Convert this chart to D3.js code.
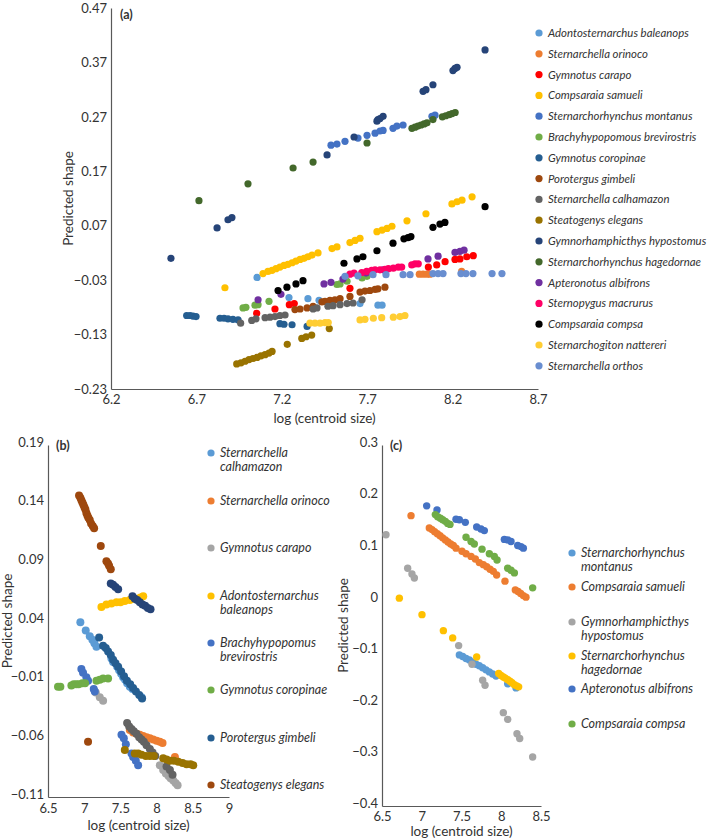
<!DOCTYPE html>
<html><head><meta charset="utf-8">
<script src="https://cdn.jsdelivr.net/npm/d3@7/dist/d3.min.js"></script>
<style>
body{margin:0;background:#fff;}
svg text{font-family:Lato,"Open Sans",sans-serif;fill:#333;}
</style></head>
<body><svg id="c" width="709" height="839"></svg>
<script>
// ---------- Panel (a) data ----------
const aNames = ["Adontosternarchus baleanops","Sternarchella orinoco","Gymnotus carapo","Compsaraia samueli","Sternarchorhynchus montanus","Brachyhypopomous brevirostris","Gymnotus coropinae","Porotergus gimbeli","Sternarchella calhamazon","Steatogenys elegans","Gymnorhamphicthys hypostomus","Sternarchorhynchus hagedornae","Apteronotus albifrons","Sternopygus macrurus","Compsaraia compsa","Sternarchogiton nattereri","Sternarchella orthos"];
const aColors = ["#5B9BD5","#ED7D31","#FF0000","#FFC000","#4472C4","#70AD47","#255E91","#9E480E","#636363","#997300","#264478","#43682B","#7030A0","#FF0066","#000000","#FFCD33","#698ED0"];
const aXTicks = [6.2,6.7,7.2,7.7,8.2,8.7];
const aYTicks = [-0.23,-0.13,-0.03,0.07,0.17,0.27,0.37,0.47];

const a_baleanops = [[7.055,-0.025],[7.242,-0.062],[7.353,-0.064],[7.418,-0.067],[7.658,-0.073],[7.763,-0.076],[7.787,-0.076]];
const a_orinoco = [[8.005,-0.019],[8.027,-0.019],[8.05,-0.019],[8.068,-0.019],[8.253,-0.014]];
const a_carapo = [[7.053,-0.091],[7.16,-0.083],[7.244,-0.075],[7.273,-0.073],[7.599,-0.045],[8.058,-0.006],[8.107,-0.002],[8.156,0.004],[8.214,0.008],[8.243,0.009],[8.283,0.013],[8.321,0.015]];
const a_samueli = [[6.867,-0.044],[7.09,-0.018],[7.119,-0.014],[7.143,-0.012],[7.166,-0.009],[7.189,-0.006],[7.213,-0.003],[7.236,-0.001],[7.26,0.002],[7.283,0.005],[7.307,0.008],[7.33,0.010],[7.353,0.013],[7.377,0.016],[7.412,0.020],[7.494,0.028],[7.523,0.031],[7.599,0.039],[7.629,0.043],[7.658,0.047],[7.757,0.059],[7.787,0.062],[7.816,0.065],[7.845,0.069],[7.933,0.079],[8.044,0.092],[8.196,0.110],[8.226,0.114],[8.255,0.117],[8.314,0.123]];
const a_montanus = [[7.488,0.218],[7.523,0.220],[7.57,0.225],[7.646,0.231],[7.699,0.236],[7.746,0.240],[7.775,0.244],[7.793,0.245],[7.851,0.249],[7.874,0.253],[7.91,0.255],[8.079,0.271],[8.097,0.273]];
const a_brevirostris = [[6.973,-0.081],[6.99,-0.080],[7.043,-0.076],[7.061,-0.075],[7.125,-0.069],[7.523,-0.038],[7.541,-0.037],[7.582,-0.032],[7.67,-0.026],[7.699,-0.023]];
const a_coropinae = [[6.643,-0.095],[6.663,-0.095],[6.68,-0.096],[6.698,-0.097],[6.838,-0.100],[6.862,-0.100],[6.885,-0.101],[6.914,-0.102],[6.944,-0.103],[7.189,-0.110],[7.213,-0.111],[7.26,-0.112],[7.348,-0.115]];
const a_gimbeli = [[7.277,-0.084],[7.307,-0.083],[7.348,-0.081],[7.383,-0.078],[7.435,-0.070],[7.453,-0.069],[7.482,-0.067],[7.511,-0.066],[7.541,-0.064],[7.599,-0.060],[7.658,-0.052],[7.687,-0.050],[7.716,-0.049],[7.746,-0.047],[7.763,-0.046],[7.804,-0.043]];
const a_calhamazon = [[6.959,-0.109],[7.024,-0.104],[7.049,-0.101],[7.102,-0.099],[7.131,-0.098],[7.16,-0.097],[7.189,-0.095],[7.219,-0.094],[7.383,-0.083],[7.406,-0.081],[7.47,-0.078],[7.5,-0.077],[7.541,-0.075],[7.582,-0.073],[7.617,-0.072],[7.67,-0.066]];
const a_elegans = [[6.936,-0.184],[6.961,-0.182],[6.985,-0.179],[7.008,-0.176],[7.031,-0.174],[7.055,-0.172],[7.078,-0.169],[7.102,-0.167],[7.125,-0.164],[7.143,-0.161],[7.232,-0.148],[7.317,-0.137],[7.342,-0.134],[7.375,-0.131],[7.478,-0.119]];
const a_hypostomus = [[6.551,0.010],[6.821,0.066],[6.885,0.081],[6.908,0.085],[7.465,0.200],[7.623,0.233],[7.757,0.262],[7.763,0.265],[7.775,0.267],[7.793,0.271],[8.027,0.317],[8.044,0.320],[8.085,0.329],[8.202,0.355],[8.214,0.359],[8.226,0.361],[8.39,0.393]];
const a_hagedornae = [[6.715,0.116],[7.002,0.147],[7.266,0.176],[7.383,0.187],[7.699,0.222],[7.962,0.249],[7.98,0.251],[7.997,0.253],[8.015,0.255],[8.033,0.257],[8.05,0.259],[8.085,0.265],[8.14,0.270],[8.16,0.272],[8.18,0.274],[8.197,0.276],[8.215,0.278]];
const a_albifrons = [[7.061,-0.066],[7.195,-0.056],[7.447,-0.037],[7.488,-0.034],[7.558,-0.028],[7.693,-0.017],[7.793,-0.011],[8.056,0.009],[8.115,0.014],[8.214,0.021],[8.243,0.023],[8.267,0.025]];
const a_macrurus = [[7.599,-0.019],[7.623,-0.017],[7.668,-0.016],[7.697,-0.014],[7.726,-0.012],[7.746,-0.011],[7.775,-0.011],[7.804,-0.010],[7.824,-0.009],[7.853,-0.008],[7.882,-0.006],[7.902,-0.006],[7.961,-0.002],[7.98,0.000],[7.999,0.000]];
const a_compsa = [[7.178,-0.049],[7.23,-0.043],[7.283,-0.037],[7.324,-0.031],[7.564,0.001],[7.64,0.009],[7.675,0.013],[7.757,0.024],[7.851,0.038],[7.915,0.046],[7.939,0.048],[7.956,0.050],[8.085,0.067],[8.126,0.073],[8.155,0.076],[8.39,0.105]];
const a_nattereri = [[7.365,-0.109],[7.394,-0.109],[7.424,-0.109],[7.453,-0.108],[7.472,-0.108],[7.658,-0.103],[7.687,-0.102],[7.736,-0.100],[7.785,-0.099],[7.853,-0.098],[7.892,-0.097],[7.921,-0.095]];
const a_orthos = [[7.57,-0.023],[7.646,-0.022],[7.734,-0.020],[7.81,-0.020],[7.91,-0.020],[7.951,-0.020],[8.085,-0.018],[8.115,-0.018],[8.144,-0.018],[8.249,-0.018],[8.278,-0.018],[8.319,-0.018],[8.431,-0.018],[8.489,-0.018]];
const aSeries = [a_baleanops,a_orinoco,a_carapo,a_samueli,a_montanus,a_brevirostris,a_coropinae,a_gimbeli,a_calhamazon,a_elegans,a_hypostomus,a_hagedornae,a_albifrons,a_macrurus,a_compsa,a_nattereri,a_orthos];

// ---------- Panel (b) data ----------
const bNames = [["Sternarchella","calhamazon"],["Sternarchella orinoco"],["Gymnotus carapo"],["Adontosternarchus","baleanops"],["Brachyhypopomus","brevirostris"],["Gymnotus coropinae"],["Porotergus gimbeli"],["Steatogenys elegans"]];
const bColors = ["#5B9BD5","#ED7D31","#A5A5A5","#FFC000","#4472C4","#70AD47","#255E91","#9E480E"];
const bExtraColors = ["#636363","#997300","#264478"];
const bXTicks = [6.5,7,7.5,8,8.5,9];
const bYTicks = [-0.11,-0.06,-0.01,0.04,0.09,0.14,0.19];

const b_calhamazon = [[6.947,0.039],[7.021,0.032],[7.077,0.027],[7.113,0.024],[7.141,0.021],[7.169,0.018],[7.376,0.008],[7.399,0.005],[7.455,0.001],[7.482,-0.002],[7.51,-0.005],[7.538,-0.008],[7.565,-0.010],[7.593,-0.013],[7.63,-0.016],[7.667,-0.018],[7.792,-0.025]];
const b_orinoco = [[7.63,-0.053],[7.676,-0.055],[7.722,-0.056],[7.768,-0.057],[7.815,-0.058],[7.861,-0.059],[7.907,-0.060],[7.953,-0.061],[8.0,-0.062],[8.045,-0.063],[8.082,-0.064],[8.253,-0.076]];
const b_carapo = [[7.16,-0.021],[7.215,-0.025],[7.261,-0.028],[8.045,-0.083],[8.091,-0.087],[8.128,-0.090],[8.165,-0.092],[8.193,-0.094],[8.23,-0.096],[8.262,-0.098],[8.29,-0.100]];
const b_baleanops = [[7.238,0.052],[7.307,0.054],[7.376,0.055],[7.446,0.056],[7.501,0.056],[7.561,0.057],[7.63,0.058],[7.685,0.059],[7.732,0.059],[7.778,0.060],[7.815,0.061]];
const b_brevirostris = [[6.961,-0.001],[6.984,-0.004],[7.03,-0.008],[7.053,-0.011],[7.132,-0.018],[7.146,-0.020],[7.515,-0.057],[7.547,-0.060],[7.575,-0.065],[7.653,-0.073],[7.676,-0.076],[7.713,-0.079],[7.745,-0.083]];
const b_coropinae = [[6.638,-0.016],[6.671,-0.016],[6.823,-0.015],[6.855,-0.014],[6.892,-0.014],[6.924,-0.014],[6.975,-0.013],[7.012,-0.013],[7.169,-0.011],[7.215,-0.010],[7.261,-0.009],[7.33,-0.009]];
const b_gimbeli = [[7.206,0.026],[7.261,0.019],[7.298,0.017],[7.33,0.014],[7.367,0.011],[7.399,0.007],[7.432,0.004],[7.469,0.001],[7.51,-0.003],[7.55,-0.007],[7.59,-0.011],[7.635,-0.014],[7.675,-0.017],[7.715,-0.020],[7.76,-0.023],[7.8,-0.026]];
const b_elegans = [[6.929,0.147],[6.947,0.145],[6.961,0.143],[6.975,0.141],[6.989,0.139],[7.003,0.137],[7.017,0.135],[7.03,0.132],[7.044,0.130],[7.058,0.128],[7.077,0.126],[7.095,0.123],[7.118,0.121],[7.137,0.119],[7.229,0.104],[7.307,0.091],[7.33,0.089],[7.344,0.087],[7.367,0.084],[7.053,-0.063]];
const b_darkgray = [[7.593,-0.047],[7.621,-0.050],[7.653,-0.052],[7.685,-0.054],[7.722,-0.056],[7.759,-0.059],[7.792,-0.061],[7.824,-0.063],[7.861,-0.066],[7.907,-0.069],[7.944,-0.072],[7.981,-0.075],[8.137,-0.084],[8.184,-0.087],[8.22,-0.091]];
const b_olive = [[7.561,-0.070],[7.699,-0.073],[7.745,-0.073],[7.792,-0.074],[7.851,-0.075],[7.907,-0.075],[7.962,-0.075],[8.091,-0.077],[8.137,-0.078],[8.184,-0.079],[8.239,-0.079],[8.299,-0.080],[8.359,-0.081],[8.414,-0.082],[8.469,-0.082],[8.506,-0.083]];
const b_navy = [[7.367,0.072],[7.399,0.071],[7.432,0.069],[7.469,0.067],[7.667,0.061],[7.699,0.059],[7.732,0.058],[7.768,0.056],[7.805,0.054],[7.842,0.053],[7.879,0.051],[7.916,0.050]];
const bSeries = [b_calhamazon,b_orinoco,b_carapo,b_baleanops,b_brevirostris,b_coropinae,b_gimbeli,b_elegans];
const bExtra = [b_darkgray,b_olive,b_navy];

// ---------- Panel (c) data ----------
const cNames = [["Sternarchorhynchus","montanus"],["Compsaraia samueli"],["Gymnorhamphicthys","hypostomus"],["Sternarchorhynchus","hagedornae"],["Apteronotus albifrons"],["Compsaraia compsa"]];
const cColors = ["#5B9BD5","#ED7D31","#A5A5A5","#FFC000","#4472C4","#70AD47"];
const cXTicks = [6.5,7,7.5,8,8.5];
const cYTicks = [-0.4,-0.3,-0.2,-0.1,0,0.1,0.2,0.3];

const c_montanus = [[7.473,-0.107],[7.515,-0.110],[7.557,-0.114],[7.599,-0.117],[7.64,-0.121],[7.682,-0.125],[7.724,-0.128],[7.766,-0.132],[7.808,-0.136],[7.85,-0.140],[7.892,-0.144],[7.934,-0.148],[8.081,-0.163],[8.186,-0.171]];
const c_samueli = [[6.865,0.163],[7.095,0.139],[7.129,0.136],[7.162,0.132],[7.196,0.128],[7.23,0.124],[7.263,0.120],[7.297,0.116],[7.33,0.112],[7.364,0.108],[7.397,0.105],[7.431,0.100],[7.506,0.094],[7.557,0.089],[7.62,0.084],[7.674,0.079],[7.724,0.072],[7.775,0.068],[7.817,0.064],[7.859,0.059],[7.9,0.055],[7.942,0.048],[8.047,0.036],[8.177,0.019],[8.211,0.016],[8.244,0.012],[8.278,0.008],[8.311,0.005]];
const c_hypostomus = [[6.55,0.126],[6.823,0.061],[6.877,0.050],[6.907,0.042],[7.464,-0.089],[7.632,-0.125],[7.766,-0.156],[7.796,-0.166],[8.026,-0.219],[8.081,-0.232],[8.198,-0.260],[8.232,-0.269],[8.395,-0.305]];
const c_hagedornae = [[6.718,0.003],[7.003,-0.029],[7.272,-0.060],[7.389,-0.074],[7.691,-0.111],[7.968,-0.143],[7.997,-0.147],[8.026,-0.150],[8.051,-0.152],[8.081,-0.155],[8.11,-0.158],[8.135,-0.161],[8.165,-0.165],[8.194,-0.167],[8.219,-0.169]];
const c_albifrons = [[7.062,0.182],[7.192,0.174],[7.431,0.156],[7.473,0.155],[7.548,0.150],[7.691,0.141],[7.745,0.137],[7.787,0.134],[8.039,0.117],[8.081,0.116],[8.123,0.113],[8.207,0.105],[8.248,0.103],[8.278,0.100]];
const c_compsa = [[7.171,0.165],[7.2,0.161],[7.234,0.158],[7.263,0.155],[7.297,0.152],[7.326,0.148],[7.355,0.146],[7.557,0.121],[7.62,0.113],[7.661,0.108],[7.758,0.098],[7.85,0.089],[7.913,0.084],[7.947,0.077],[8.081,0.061],[8.123,0.057],[8.165,0.052],[8.395,0.023]];
const cSeries = [c_montanus,c_samueli,c_hypostomus,c_hagedornae,c_albifrons,c_compsa];

// ---------- drawing ----------
const svg = d3.select("#c");
const AX = "#595959";

function panel(o){
  const g = svg.append("g");
  const x = d3.scaleLinear().domain(o.xd).range(o.xr);
  const y = d3.scaleLinear().domain(o.yd).range(o.yr);
  const xa = g.append("g").attr("transform",`translate(0,${o.yr[0]})`)
    .call(d3.axisBottom(x).tickValues(o.xt).tickSize(0).tickPadding(o.xpad).tickFormat(o.xf));
  const ya = g.append("g").attr("transform",`translate(${o.xr[0]},0)`)
    .call(d3.axisLeft(y).tickValues(o.yt).tickSize(0).tickPadding(4).tickFormat(o.yf));
  [xa,ya].forEach(a=>{
    a.select(".domain").attr("stroke",AX).attr("stroke-width",1.2);
    a.selectAll("text").style("font-family","Lato, 'Open Sans', sans-serif").style("font-size","13px").attr("fill","#333");
  });
  ya.selectAll("text").attr("dy",o.ydy);
  o.series.forEach((s,i)=>{
    g.append("g").selectAll("circle").data(s).join("circle")
      .attr("cx",d=>x(d[0])).attr("cy",d=>y(d[1])).attr("r",o.r).attr("fill",o.colors[i]);
  });
  g.append("text").attr("x",(o.xr[0]+o.xr[1])/2).attr("y",o.xtY).attr("text-anchor","middle")
    .style("font-size","13.5px").text("log (centroid size)");
  g.append("text").attr("transform",`translate(${o.ytX},${(o.yr[0]+o.yr[1])/2}) rotate(-90)`)
    .attr("text-anchor","middle").style("font-size","13.5px").text("Predicted shape");
  g.append("text").attr("x",o.lab[0]).attr("y",o.lab[1]).style("font-weight","bold").style("font-size","12.5px").text(o.label);
  return {x,y};
}
const fmt = d=>d3.format(".2f")(d).replace("-","\u2212");
panel({xd:[6.2,8.7],xr:[111,538],yd:[-0.23,0.47],yr:[389,8],xt:aXTicks,yt:aYTicks,xpad:6,ydy:"0.32em",
  xf:d=>d3.format(".1f")(d),yf:fmt,
  series:aSeries,colors:aColors,r:3.6,xtY:423,ytX:73,lab:[120,19],label:"(a)"});
panel({xd:[6.5,9],xr:[48,229],yd:[-0.11,0.19],yr:[797,445],xt:bXTicks,yt:bYTicks,xpad:7,ydy:"0.1em",
  xf:d=>String(d),yf:fmt,
  series:bSeries.concat(bExtra),colors:bColors.concat(bExtraColors),r:4,xtY:830,ytX:12,lab:[56,450],label:"(b)"});
panel({xd:[6.5,8.5],xr:[382,541],yd:[-0.4,0.3],yr:[806,445],xt:cXTicks,yt:cYTicks,xpad:6,ydy:"0.1em",
  xf:d=>String(d),yf:d=>String(d).replace("-","\u2212"),
  series:cSeries,colors:cColors,r:3.7,xtY:836,ytX:348,lab:[390,450],label:"(c)"});

function legend(names,colors,xm,ys,lh,fs){
  const g = svg.append("g");
  names.forEach((n,i)=>{
    const lines = Array.isArray(n)?n:[n];
    g.append("circle").attr("cx",xm).attr("cy",ys[i]).attr("r",3.6).attr("fill",colors[i]);
    lines.forEach((t,j)=>{
      g.append("text").attr("x",xm+9).attr("y",ys[i]+j*lh).attr("dy","0.35em")
        .style("font-style","italic").style("font-size",fs).text(t);
    });
  });
}
const aLegY = aNames.map((_,i)=>33+i*20.8);
legend(aNames,aColors,539,aLegY,14,"11.4px");
const bLegY = [453,501,548,596,643,690,738,785];
legend(bNames,bColors,211,bLegY,14,"12.5px");
const cLegY = [553,587,622,656,689,724];
legend(cNames,cColors,572,cLegY,13.5,"12.5px");
</script></body></html>
